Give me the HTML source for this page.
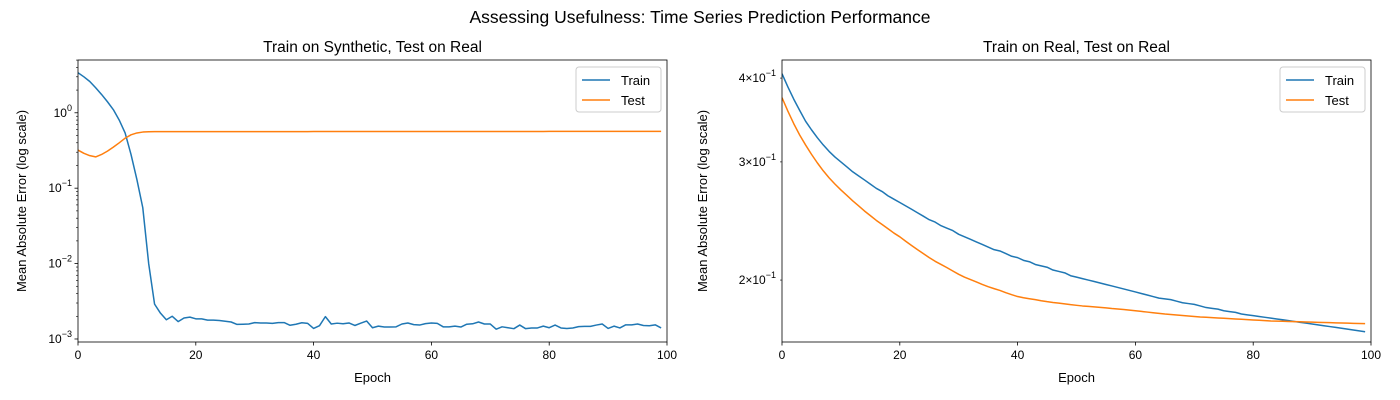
<!DOCTYPE html>
<html><head><meta charset="utf-8"><style>
html,body{margin:0;padding:0;background:#fff;}
svg{display:block;font-family:"Liberation Sans","DejaVu Sans",sans-serif;}
</style></head><body>
<svg id="fig" width="1400" height="400" xmlns="http://www.w3.org/2000/svg">
<text x="700" y="23" text-anchor="middle" font-size="17.5" fill="#000">Assessing Usefulness: Time Series Prediction Performance</text>
</svg>
<script>
const epochs = Array.from({length:100},(_,i)=>i);
const synTrain = [3.4,3.0,2.6,2.15,1.75,1.4,1.1,0.8,0.54,0.28,0.13,0.055,0.01,0.0029,0.0022,0.0018,0.002,0.0017,0.0019,0.00195,0.00185,0.00185,0.00178,0.00178,0.00176,0.00172,0.00168,0.00156,0.00157,0.00158,0.00165,0.00163,0.00163,0.00161,0.00165,0.00165,0.00152,0.00157,0.00164,0.00161,0.00138,0.0015,0.00198,0.00158,0.00162,0.00159,0.00163,0.00151,0.00162,0.00173,0.00141,0.00148,0.00144,0.00144,0.00145,0.00158,0.00163,0.00155,0.00153,0.0016,0.00163,0.00161,0.00145,0.00145,0.00148,0.00144,0.00157,0.00159,0.00168,0.00158,0.00158,0.00135,0.00145,0.00141,0.00137,0.00153,0.00137,0.0014,0.0014,0.00148,0.00141,0.00153,0.0014,0.00138,0.0014,0.00146,0.00147,0.00147,0.00153,0.00158,0.00138,0.00148,0.0014,0.00154,0.00154,0.00158,0.00151,0.0015,0.00154,0.0014];
const synTest = [0.32,0.29,0.27,0.26,0.28,0.31,0.35,0.4,0.46,0.51,0.54,0.555,0.56,0.562,0.562,0.562,0.562,0.562,0.562,0.562,0.562,0.562,0.563,0.563,0.563,0.563,0.563,0.563,0.563,0.563,0.563,0.563,0.563,0.563,0.563,0.563,0.563,0.563,0.563,0.563,0.564,0.564,0.564,0.564,0.564,0.564,0.564,0.564,0.564,0.564,0.564,0.564,0.564,0.564,0.564,0.564,0.564,0.564,0.564,0.564,0.565,0.565,0.565,0.565,0.565,0.565,0.565,0.565,0.565,0.565,0.565,0.565,0.565,0.565,0.565,0.565,0.565,0.565,0.565,0.565,0.566,0.566,0.566,0.566,0.566,0.566,0.566,0.566,0.566,0.566,0.566,0.566,0.566,0.566,0.566,0.566,0.566,0.566,0.566,0.566];
const realTrain = [0.406,0.388,0.372,0.358,0.345,0.335,0.326,0.318,0.311,0.305,0.3,0.295,0.29,0.286,0.282,0.278,0.274,0.271,0.267,0.264,0.261,0.258,0.255,0.252,0.249,0.246,0.244,0.241,0.239,0.237,0.234,0.232,0.23,0.228,0.226,0.224,0.222,0.221,0.219,0.217,0.216,0.214,0.213,0.211,0.21,0.209,0.207,0.206,0.205,0.203,0.202,0.201,0.2,0.199,0.198,0.197,0.196,0.195,0.194,0.193,0.192,0.191,0.19,0.189,0.188,0.1875,0.187,0.186,0.185,0.1845,0.184,0.183,0.182,0.1815,0.181,0.18,0.1795,0.179,0.178,0.1775,0.177,0.1765,0.176,0.1755,0.175,0.1745,0.174,0.1735,0.173,0.1725,0.172,0.1715,0.171,0.1705,0.17,0.1695,0.169,0.1685,0.168,0.1675];
const realTest = [0.374,0.357,0.342,0.329,0.318,0.308,0.299,0.291,0.284,0.278,0.2725,0.2675,0.2625,0.258,0.2535,0.2495,0.2455,0.242,0.2385,0.235,0.232,0.2285,0.2252,0.222,0.219,0.216,0.2133,0.211,0.2087,0.2063,0.204,0.202,0.2003,0.1987,0.197,0.1955,0.1942,0.193,0.1915,0.1902,0.189,0.1882,0.1876,0.187,0.1863,0.1857,0.1852,0.1848,0.1843,0.1838,0.1834,0.183,0.1827,0.1824,0.1821,0.1818,0.1814,0.1811,0.1808,0.1804,0.18,0.1796,0.1792,0.1788,0.1784,0.178,0.1777,0.1774,0.1771,0.1768,0.1765,0.1762,0.176,0.1758,0.1756,0.1754,0.1752,0.175,0.1748,0.1746,0.1744,0.1742,0.174,0.1738,0.1737,0.1736,0.1735,0.1734,0.1733,0.1732,0.1731,0.173,0.1729,0.1728,0.1727,0.1726,0.1725,0.1724,0.1723,0.1722];
const xTicks = [0,20,40,60,80,100];
const leftYTicks = [0,-1,-2,-3];
const rightYTicks = [0.2,0.3,0.4];

const NS="http://www.w3.org/2000/svg";
const svg=document.getElementById('fig');
function mk(tag,attrs,parent){const e=document.createElementNS(NS,tag);for(const k in attrs)e.setAttribute(k,attrs[k]);(parent||svg).appendChild(e);return e;}

function panel(o){
  const g=mk('g',{});
  
  
  const L=o.L,R=o.R,T=60,B=342;
  const xs=v=>L+(v-0)/(100-0)*(R-L);
  const ys=v=>B-(Math.log10(v)-o.lmin)/(o.lmax-o.lmin)*(B-T);
  const series=[[o.train,'#1f77b4','train-line'],[o.test,'#ff7f0e','test-line']];
  const clip=mk('clipPath',{id:o.name+'-clip'},g);
  mk('rect',{x:L,y:T,width:R-L,height:B-T},clip);
  series.forEach(s=>{
    const p=mk('polyline',{points:s[0].map((v,i)=>xs(epochs[i]).toFixed(2)+','+ys(v).toFixed(2)).join(' '),fill:'none',stroke:s[1],'stroke-width':1.5,'stroke-linejoin':'round','clip-path':'url(#'+o.name+'-clip)'},g);
    
    
  });
  const fr=mk('rect',{x:L,y:T,width:R-L,height:B-T,fill:'none',stroke:'#000','stroke-width':0.8},g);
  
  
  xTicks.forEach(t=>{
    const x=xs(t);
    mk('line',{x1:x,x2:x,y1:B,y2:B+3.5,stroke:'#000','stroke-width':0.8},g);
    const tx=mk('text',{x:x,y:B+17,'text-anchor':'middle','font-size':12},g);
    tx.textContent=t;
    
    
  });
  if(o.log){
    for(let d=-4;d<=1;d++){
      for(let m=1;m<10;m++){
        const v=m*Math.pow(10,d);const lv=Math.log10(v);
        if(lv<o.lmin||lv>o.lmax)continue;
        const y=ys(v);
        mk('line',{x1:L,x2:L-(m===1?3.5:2),y1:y,y2:y,stroke:'#000','stroke-width':m===1?0.8:0.6},g);
      }
    }
    leftYTicks.forEach(d=>{
      const t=mk('text',{x:L-6,y:ys(Math.pow(10,d))+4,'text-anchor':'end','font-size':12},g);
      const a=mk('tspan',{},t);a.textContent='10';
      const b=mk('tspan',{dy:-6,'font-size':9},t);b.textContent=d===0?'0':'\u2212'+(-d);
      
      
    });
  } else {
    rightYTicks.forEach((v,i)=>{
      const y=ys(v);
      mk('line',{x1:L,x2:L-2,y1:y,y2:y,stroke:'#000','stroke-width':0.6},g);
      const t=mk('text',{x:L-6,y:y+4,'text-anchor':'end','font-size':12},g);
      const a=mk('tspan',{},t);a.textContent=String(Math.round(v*10))+'\u00d710';
      const b=mk('tspan',{dy:-6,'font-size':9},t);b.textContent='\u22121';
      
      
    });
  }
  const tt=mk('text',{x:(L+R)/2,y:52,'text-anchor':'middle','font-size':15.5},g);
  tt.textContent=o.title;
  
  
  const xl=mk('text',{x:(L+R)/2,y:382,'text-anchor':'middle','font-size':13},g);
  xl.textContent='Epoch';
  
  
  const yl=mk('text',{x:0,y:0,'text-anchor':'middle','font-size':13,transform:'translate('+o.ylx+','+(T+B)/2+') rotate(-90)'},g);
  yl.textContent='Mean Absolute Error (log scale)';
  
  
  const lg=mk('g',{},g);
  
  
  const lx=R-91,ly=67;
  mk('rect',{x:lx,y:ly,width:85,height:45,rx:3,fill:'#fff','fill-opacity':0.8,stroke:'#ccc','stroke-width':1},lg);
  [['Train','#1f77b4'],['Test','#ff7f0e']].forEach((e,i)=>{
    const yy=ly+13+i*20;
    mk('line',{x1:lx+6,x2:lx+34,y1:yy,y2:yy,stroke:e[1],'stroke-width':1.5},lg);
    const t=mk('text',{x:lx+45,y:yy+5,'font-size':13},lg);
    t.textContent=e[0];
    
    
  });
}
panel({name:'left-panel',L:78,R:667,lmin:-3.04,lmax:0.70,log:true,train:synTrain,test:synTest,title:'Train on Synthetic, Test on Real',ylx:26});
panel({name:'right-panel',L:782,R:1371,lmin:Math.log10(0.1617),lmax:Math.log10(0.4256),log:false,train:realTrain,test:realTest,title:'Train on Real, Test on Real',ylx:707});
</script>
</body></html>
